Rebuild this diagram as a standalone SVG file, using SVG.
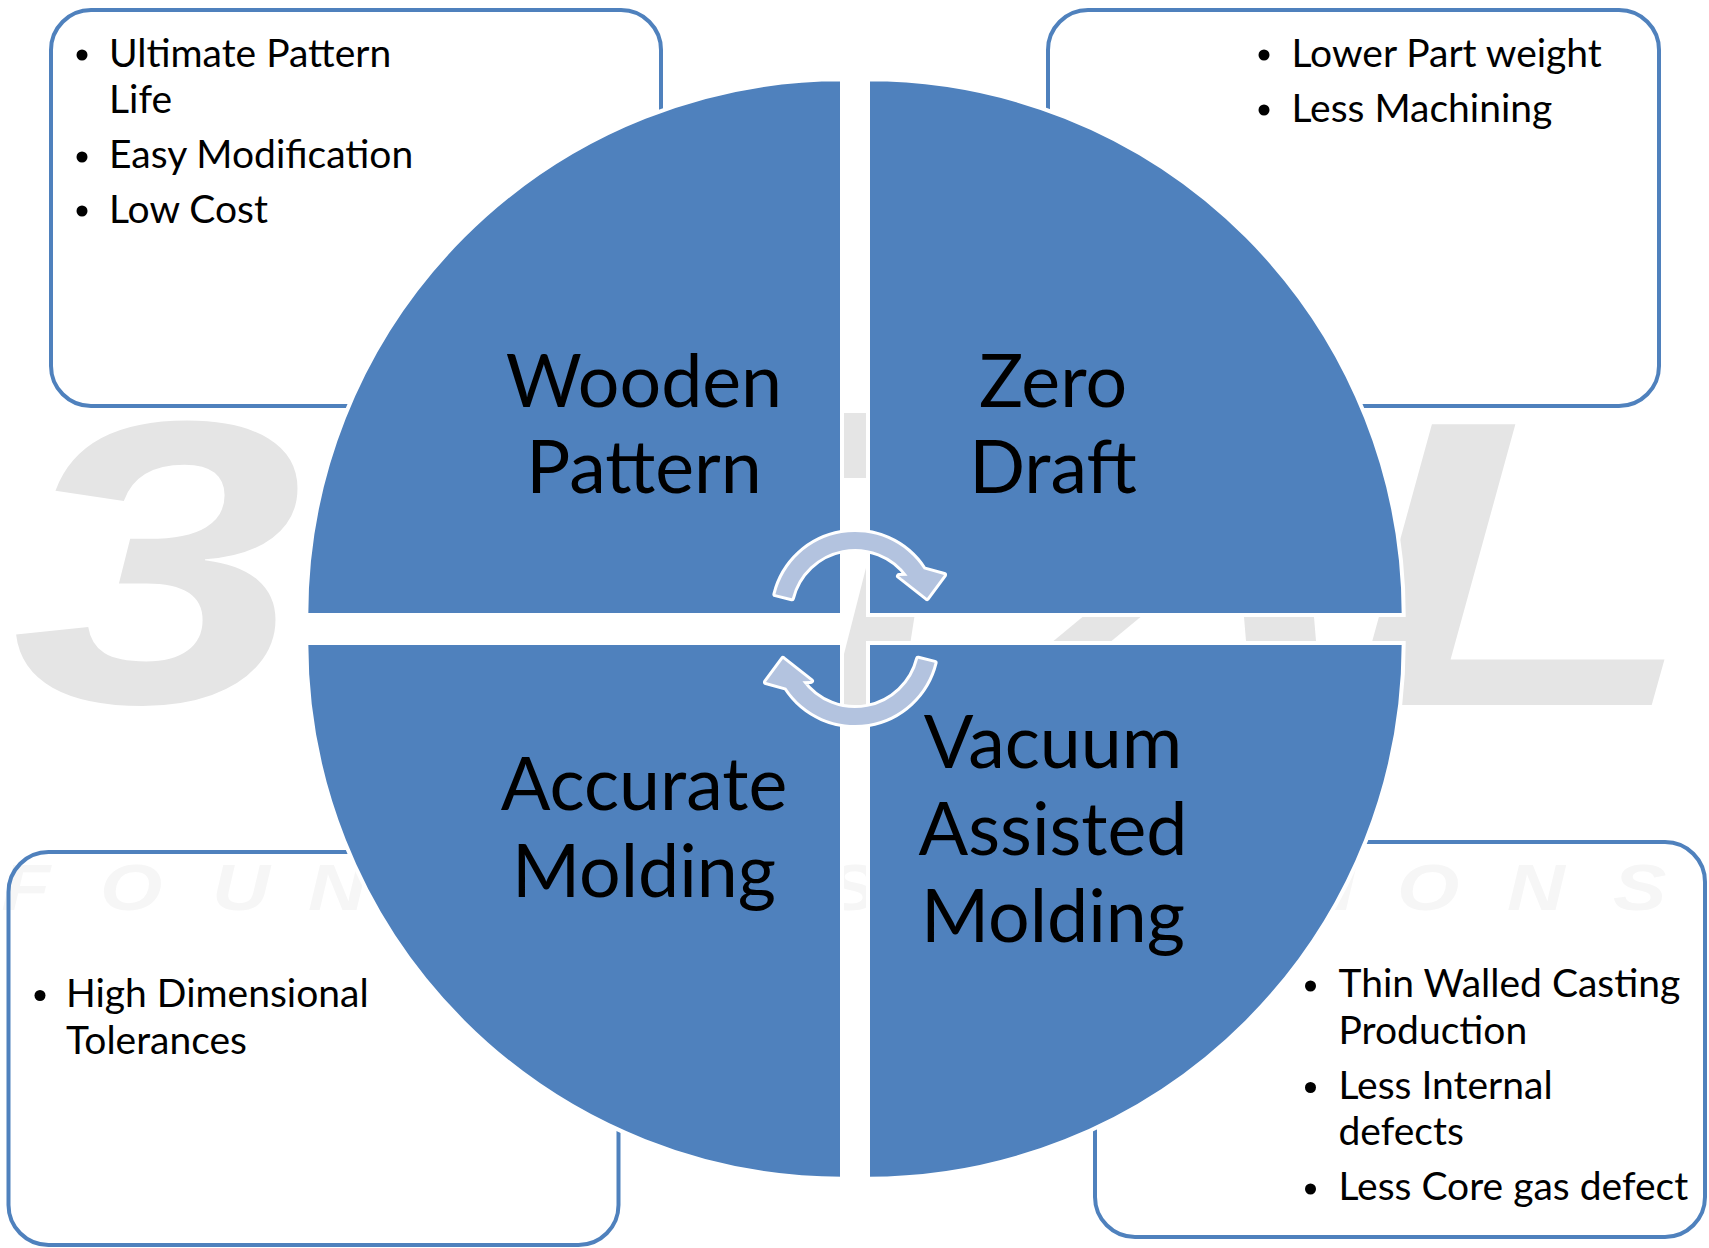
<svg xmlns="http://www.w3.org/2000/svg" width="1709" height="1248" viewBox="0 0 1709 1248">
  <style>
    .q { fill: #4F81BD; stroke: #FFFFFF; stroke-width: 4; }
    .box { fill: none; stroke: #4F81BD; stroke-width: 4; }
    .lbl { font-family: Lato, "Open Sans", sans-serif; font-size: 73.5px; fill: #000; text-anchor: middle; }
    .bt { font-family: Lato, "Open Sans", sans-serif; font-size: 39px; fill: #000; }
    .dot { fill: #000; }
    .wm { fill: #E5E5E5; font-family: "Liberation Sans", Arial, sans-serif; font-weight: bold; font-style: italic; }
    .wmp { fill: #E5E5E5; }
    .wmf { fill: #F6F6F6; font-family: "Liberation Sans", Arial, sans-serif; font-weight: bold; font-style: italic; font-size: 64px; }
    .arr { fill: #B3C3DF; stroke: #FFFFFF; stroke-width: 6; stroke-linejoin: round; paint-order: stroke fill; }
  </style>
  <defs>
    <path id="cycle-arrow" d="M775.4,594.2 A82,82 0 0 1 923.8,569.3 L944,575 L927,598 L899,576 L907.6,575.8 A65,65 0 0 0 791.9,598.3 Z"/>
  </defs>

  <rect width="1709" height="1248" fill="#FFFFFF"/>

  <!-- background logo watermark -->
  <g id="watermark">
    <text class="wm" font-size="403" transform="translate(12 702) scale(1.3 1)">3</text>
    <text class="wm" font-size="408" transform="translate(1344.5 705) scale(1.42 1)">L</text>
    <polygon class="wmp" points="830,413 900,413 885,478 815,478"/>
    <polygon class="wmp" points="868,560 885,560 885,613 915,613 910,645 885,645 885,705 831,705"/>
    <polygon class="wmp" points="1097,605 1155,605 1097,653 1039,653"/>
    <polygon class="wmp" points="1243,605 1313,605 1317,653 1247,653"/>
    <text class="wmf" transform="scale(1.25 1)" x="1 80 169.6 246.4" y="910">FOUN</text>
    <text class="wmf" transform="scale(1.25 1)" x="660" y="910">S</text>
    <text class="wmf" transform="scale(1.25 1)" x="1066.4 1117.6 1205.6 1290.4" y="910">IONS</text>
  </g>

  <!-- callout boxes -->
  <g id="box-wooden-pattern">
    <rect class="box" x="51" y="10" width="610" height="396" rx="40"/>
    <circle class="dot" cx="82" cy="55" r="5.5"/>
    <text class="bt" x="109" y="66.5">Ultimate Pattern</text>
    <text class="bt" x="109" y="113">Life</text>
    <circle class="dot" cx="82" cy="157" r="5.5"/>
    <text class="bt" x="109" y="168">Easy Modification</text>
    <circle class="dot" cx="82" cy="211" r="5.5"/>
    <text class="bt" x="109" y="222.5">Low Cost</text>
  </g>
  <g id="box-zero-draft">
    <rect class="box" x="1048" y="10" width="611" height="396" rx="40"/>
    <circle class="dot" cx="1264" cy="55" r="5.5"/>
    <text class="bt" x="1291.5" y="66.5">Lower Part weight</text>
    <circle class="dot" cx="1264" cy="110" r="5.5"/>
    <text class="bt" x="1291.5" y="121.5">Less Machining</text>
  </g>
  <g id="box-accurate-molding">
    <rect class="box" x="8.5" y="852" width="610" height="393" rx="40"/>
    <circle class="dot" cx="40" cy="995.5" r="5.5"/>
    <text class="bt" x="66" y="1006.5">High Dimensional</text>
    <text class="bt" x="66" y="1054">Tolerances</text>
  </g>
  <g id="box-vacuum-molding">
    <rect class="box" x="1095" y="842" width="610" height="395" rx="40"/>
    <circle class="dot" cx="1310.5" cy="986" r="5.5"/>
    <text class="bt" x="1338.5" y="996.5">Thin Walled Casting</text>
    <text class="bt" x="1338.5" y="1044">Production</text>
    <circle class="dot" cx="1310.5" cy="1087.5" r="5.5"/>
    <text class="bt" x="1338.5" y="1098.5">Less Internal</text>
    <text class="bt" x="1338.5" y="1145">defects</text>
    <circle class="dot" cx="1310.5" cy="1189" r="5.5"/>
    <text class="bt" x="1338.5" y="1200">Less Core gas defect</text>
  </g>

  <!-- quadrants of the process circle -->
  <g id="node-wooden-pattern">
    <path class="q" d="M842,615 L306.3,615 A535.7,535.7 0 0 1 842,79.3 Z"/>
    <text class="lbl" x="644" y="406.5">Wooden</text>
    <text class="lbl" x="644" y="493">Pattern</text>
  </g>
  <g id="node-zero-draft">
    <path class="q" d="M868,615 L868,79.3 A535.7,535.7 0 0 1 1403.7,615 Z"/>
    <text class="lbl" x="1053" y="406.5">Zero</text>
    <text class="lbl" x="1053" y="493">Draft</text>
  </g>
  <g id="node-vacuum-molding">
    <path class="q" d="M868,643 L1403.7,643 A535.7,535.7 0 0 1 868,1178.7 Z"/>
    <text class="lbl" x="1053" y="767.5">Vacuum</text>
    <text class="lbl" x="1053" y="854.5">Assisted</text>
    <text class="lbl" x="1053" y="941.5">Molding</text>
  </g>
  <g id="node-accurate-molding">
    <path class="q" d="M842,643 L842,1178.7 A535.7,535.7 0 0 1 306.3,643 Z"/>
    <text class="lbl" x="644" y="810">Accurate</text>
    <text class="lbl" x="644" y="897">Molding</text>
  </g>

  <!-- cycle arrows -->
  <g id="connectors">
    <use class="arr" href="#cycle-arrow"/>
    <use class="arr" href="#cycle-arrow" transform="rotate(180 855 628.5)"/>
  </g>
</svg>
